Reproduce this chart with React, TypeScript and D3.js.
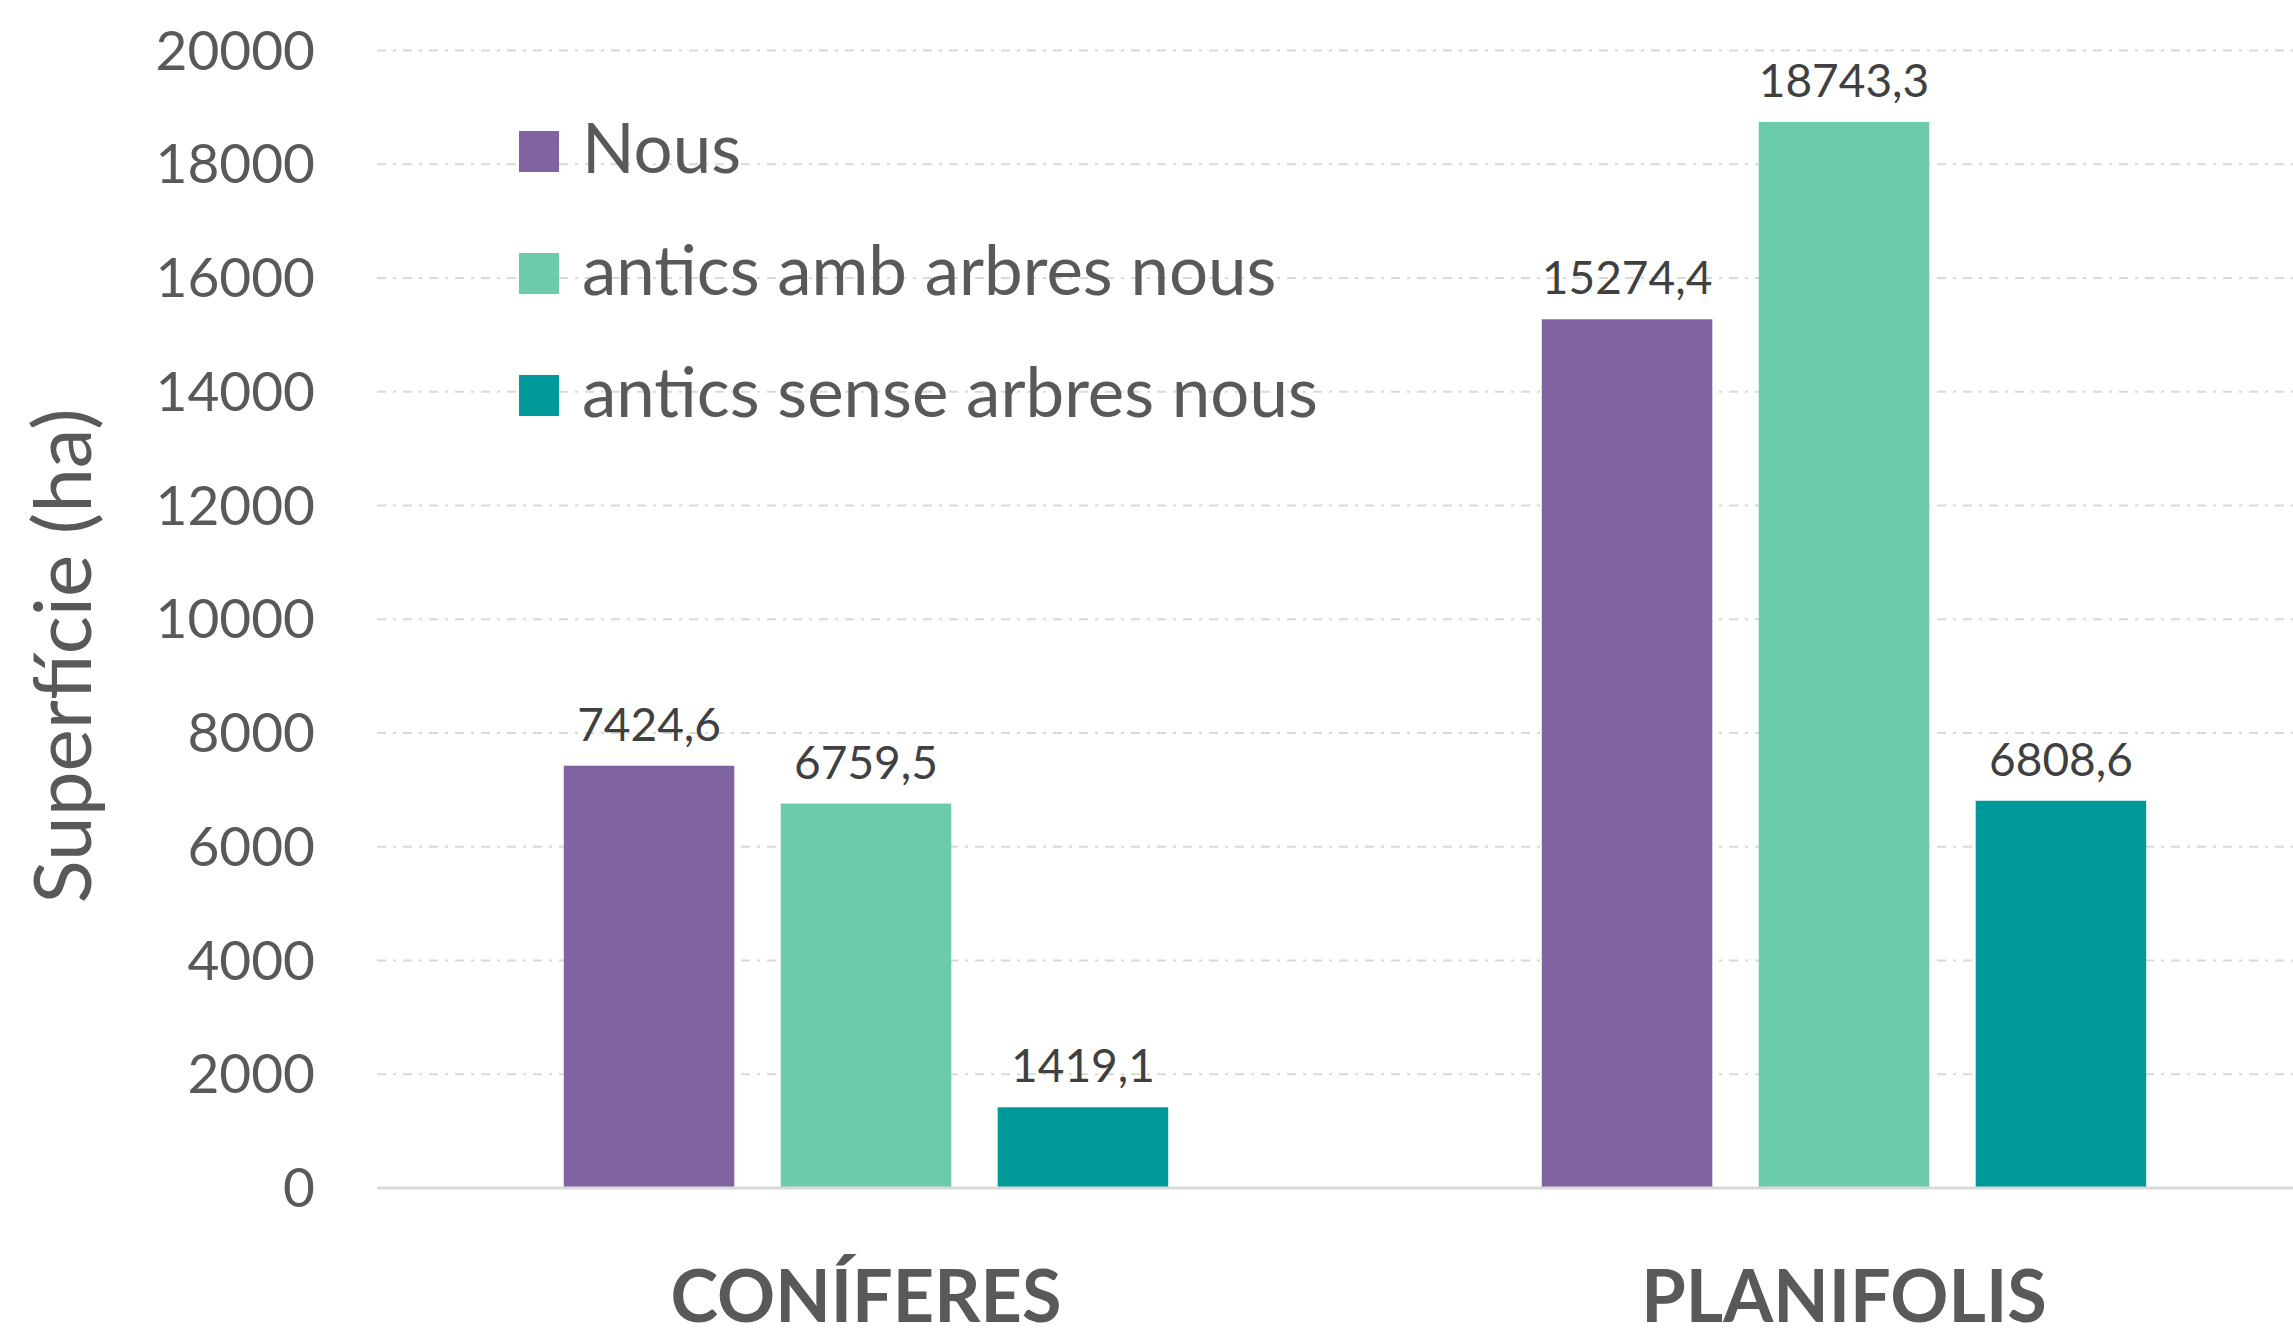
import React from "react";
import * as d3 from "d3";

const categories = ["CONÍFERES", "PLANIFOLIS"];
const seriesNames = ["Nous", "antics amb arbres nous", "antics sense arbres nous"];
const seriesColors = ["#8064A2", "#6CCBA8", "#009999"];
const nous = [7424.6, 15274.4];
const anticsAmb = [6759.5, 18743.3];
const anticsSense = [1419.1, 6808.6];
const yTicks = [0, 2000, 4000, 6000, 8000, 10000, 12000, 14000, 16000, 18000, 20000];
const seriesValues = [nous, anticsAmb, anticsSense];

const W = 2293;
const H = 1329;
const FONT = "Lato, 'Open Sans', sans-serif";

export default function App() {
  const x0 = d3.scaleBand<string>().domain(categories).range([377, 2333]).paddingInner(0.382).paddingOuter(0.191);
  const x1 = d3.scaleBand<string>().domain(seriesNames).range([0, x0.bandwidth()]).paddingInner(0.214).paddingOuter(0);
  const y = d3.scaleLinear().domain([0, 20000]).range([1188, 50.5]);
  const fmt = (v: number) => v.toFixed(1).replace(".", ",");

  return (
    <svg width={W} height={H} style={{ position: "absolute", left: 0, top: 0, background: "#fff" }}>
      <rect x={0} y={0} width={W} height={H} fill="#fff" />
      {yTicks.filter((t) => t > 0).map((t) => (
        <line key={"g" + t} x1={377} x2={W} y1={y(t)} y2={y(t)} stroke="#D9D9D9" strokeWidth={2} strokeDasharray="9,7,3,7" />
      ))}
      {yTicks.map((t) => (
        <text key={"t" + t} x={315} y={y(t) + 19} textAnchor="end" fontFamily={FONT} fontSize={55} fill="#595959">
          {t}
        </text>
      ))}
      <text transform={`translate(91,656) rotate(-90)`} textAnchor="middle" fontFamily={FONT} fontSize={80} fill="#595959">
        Superfície (ha)
      </text>
      {categories.map((c, ci) => (
        <g key={c} transform={`translate(${x0(c)},0)`}>
          {seriesNames.map((s, si) => {
            const v = seriesValues[si][ci];
            const bx = x1(s)!;
            return (
              <g key={s}>
                <rect x={bx} y={y(v)} width={x1.bandwidth()} height={y(0) - y(v)} fill={seriesColors[si]} />
                <text x={bx + x1.bandwidth() / 2} y={y(v) - 25} textAnchor="middle" fontFamily={FONT} fontSize={46} fill="#404040">
                  {fmt(v)}
                </text>
              </g>
            );
          })}
          <text x={x0.bandwidth() / 2} y={1322} textAnchor="middle" fontFamily={FONT} fontWeight={700} fontSize={72} fill="#595959">
            {c}
          </text>
        </g>
      ))}
      <line x1={377} x2={W} y1={y(0)} y2={y(0)} stroke="#D9D9D9" strokeWidth={3} />
      {seriesNames.map((s, i) => (
        <g key={"l" + s} transform={`translate(519,${131 + i * 122})`}>
          <rect x={0} y={0} width={40} height={41} fill={seriesColors[i]} />
          <text x={63} y={42} fontFamily={FONT} fontSize={69} fill="#595959">
            {s}
          </text>
        </g>
      ))}
    </svg>
  );
}
